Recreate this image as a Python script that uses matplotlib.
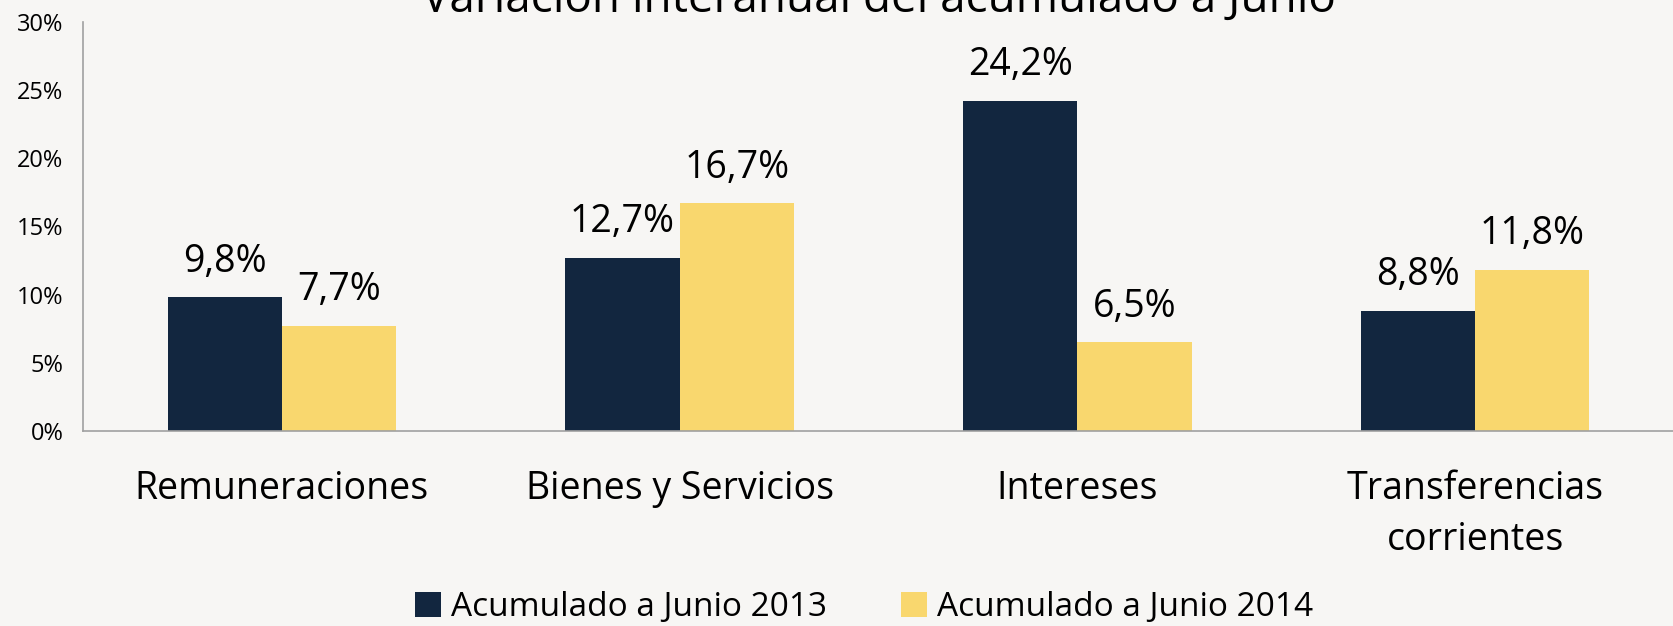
import matplotlib.pyplot as plt
import numpy as np

categorias = ["Remuneraciones", "Bienes y Servicios", "Intereses", "Transferencias\ncorrientes"]
junio_2013 = [9.8, 12.7, 24.2, 8.8]
junio_2014 = [7.7, 16.7, 6.5, 11.8]
series = ["Acumulado a Junio 2013", "Acumulado a Junio 2014"]
ticks_y = [0, 5, 10, 15, 20, 25, 30]

plt.rcParams['font.family'] = ['Open Sans', 'DejaVu Sans']

fondo = '#f7f6f4'
azul = '#12263f'
amarillo = '#f9d76e'

fig = plt.figure(figsize=(16.74, 6.26), dpi=100, facecolor=fondo)
ax = fig.add_axes([0.0496, 0.3115, 0.9504, 0.6535])
ax.set_facecolor(fondo)

x = np.arange(len(categorias))
w = 0.287
b1 = ax.bar(x - w / 2, junio_2013, w, color=azul, label=series[0])
b2 = ax.bar(x + w / 2, junio_2014, w, color=amarillo, label=series[1])

# etiquetas de datos con coma decimal
for barras in (b1, b2):
    for r in barras:
        v = r.get_height()
        ax.annotate(f"{v:.1f}%".replace('.', ','),
                    (r.get_x() + r.get_width() / 2, v),
                    xytext=(0, 12), textcoords='offset points',
                    ha='center', va='bottom', fontsize=27, color='black')

ax.set_xlim(-0.5, len(categorias) - 0.5)
ax.set_ylim(0, 30)
ax.set_yticks(ticks_y)
ax.set_yticklabels([f"{t}%" for t in ticks_y], fontsize=17)
ax.set_xticks(x)
ax.set_xticklabels(categorias, fontsize=27, linespacing=1.45)
ax.tick_params(axis='x', length=0, pad=28)
ax.tick_params(axis='y', length=0, pad=14)
for lado in ('top', 'right'):
    ax.spines[lado].set_visible(False)
for lado in ('left', 'bottom'):
    ax.spines[lado].set_color('#a0a0a0')
    ax.spines[lado].set_linewidth(1.2)

fig.text(0.525, 1.0, "Variación interanual del acumulado a Junio",
         ha='center', va='center', fontsize=33, color='black')

ax.legend(loc='center', bbox_to_anchor=(0.491, -0.432), ncol=2, frameon=False,
          fontsize=24, handlelength=0.8, handleheight=0.8, handletextpad=0.3,
          columnspacing=2.2, borderpad=0.2)

fig.savefig("out.png", dpi=100, facecolor=fondo)
